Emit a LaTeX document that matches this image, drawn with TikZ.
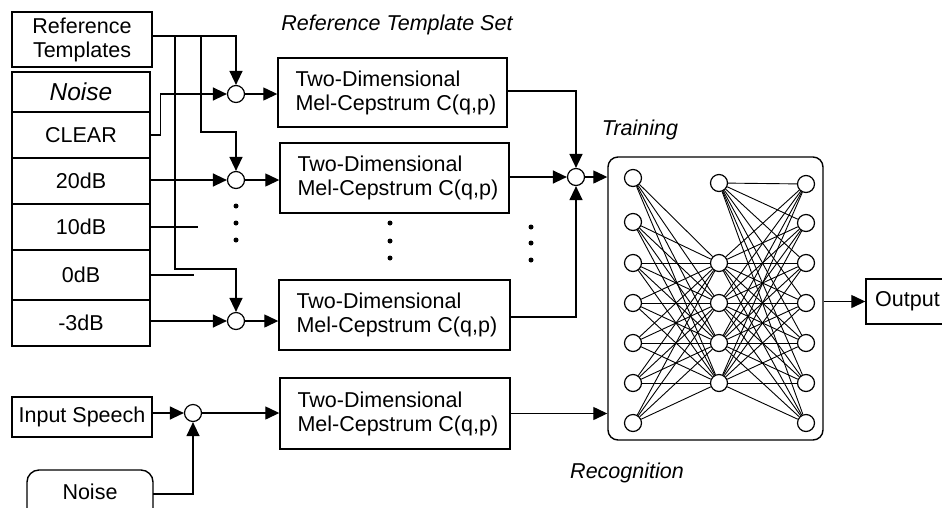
\documentclass[tikz,border=0pt]{standalone}
\usepackage{fontspec}
\setmainfont{Liberation Sans}
\usetikzlibrary{arrows.meta,calc}
\begin{document}
\begin{tikzpicture}[x=1pt,y=-1pt,
  every node/.style={font=\fontsize{21.5}{24}\selectfont},
  box/.style={draw, line width=1.4pt, inner sep=0pt},
  sum/.style={draw, circle, line width=1.2pt, minimum size=17pt, inner sep=0pt},
  neuron/.style={draw, circle, line width=1.2pt, minimum size=17pt, inner sep=0pt},
  wire/.style={line width=1.3pt},
  arr/.style={wire, -{Triangle[length=14pt,width=13pt]}},
  lab/.style={font=\fontsize{21.5}{24}\selectfont\itshape},
  dot/.style={circle, fill, inner sep=0pt, minimum size=5pt},
  syn/.style={line width=0.9pt},
  txt/.style={anchor=west, align=left, inner sep=0pt}
]
\path[use as bounding box] (0,0) rectangle (942,507);
\clip (0,0) rectangle (942,507);

% left column
\node[box, minimum width=140pt, minimum height=55pt, align=center] (ref) at (82,39.5) {Reference\\Templates};
\node[box, minimum width=138pt, minimum height=40pt, font=\fontsize{24.5}{26}\selectfont\itshape] (noise) at (81,92) {Noise};
\node[box, minimum width=138pt, minimum height=46pt] (clear) at (81,135) {CLEAR};
\node[box, minimum width=138pt, minimum height=46pt] (d20) at (81,181) {20dB};
\node[box, minimum width=138pt, minimum height=46pt] (d10) at (81,227) {10dB};
\node[box, minimum width=138pt, minimum height=50pt] (d0) at (81,275) {0dB};
\node[box, minimum width=138pt, minimum height=46pt] (dm3) at (81,323) {-3dB};

% summing points
\node[sum] (s1) at (236,94) {};
\node[sum] (s2) at (236,180) {};
\node[sum] (s3) at (236,321) {};

% mel-cepstrum boxes
\node[box, minimum width=229pt, minimum height=69pt] (m1) at (392.5,92.5) {};
\node[box, minimum width=229pt, minimum height=70pt] (m2) at (394.5,178) {};
\node[box, minimum width=231pt, minimum height=70pt] (m3) at (394.5,315) {};
\node[box, minimum width=230pt, minimum height=71pt] (m4) at (395,413.5) {};
\foreach \m in {m1,m2,m3,m4}{
  \node[txt] at ([xshift=18pt]\m.west) {Two-Dimensional\\Mel-Cepstrum C(q,p)};
}

% reference template lines
\coordinate (r0) at (152,36);
\coordinate (b1) at (201,36);
\coordinate (b2) at (175,36);
\coordinate (k2) at (236,132);
\coordinate (k3) at (236,269);
\draw[arr] (r0) -| (s1.north);
\draw[arr] (b1) |- (k2) -- (s2.north);
\draw[arr] (b2) |- (k3) -- (s3.north);

% noise lines
\draw[arr] (clear.east) -- ++(10,0) |- (s1.west);
\draw[arr] (d20.east |- s2) -- (s2.west);
\draw[wire] (d10.east) -- ++(47,0);
\draw[wire] (d0.east) -- ++(43,0);
\draw[arr] (dm3.east |- s3) -- (s3.west);

% to boxes
\draw[arr] (s1.east) -- (s1.east -| m1.west);
\draw[arr] (s2.east) -- (s2.east -| m2.west);
\draw[arr] (s3.east) -- (s3.east -| m3.west);

% dots
\foreach \y in {206,223,240}{\node[dot] at (236,\y) {};}
\foreach \y in {223,241,258}{\node[dot] at (390,\y) {};}
\foreach \y in {227,243,260}{\node[dot] at (531,\y) {};}

% training sum
\node[sum] (t) at (576,177) {};
\coordinate (u1) at (576,91);
\coordinate (u3) at (576,317);
\draw[arr] (m1.east |- u1) -- (u1) -- (t.north);
\draw[arr] (m2.east |- t) -- (t.west);
\draw[arr] (m3.east |- u3) -- (u3) -- (t.south);

% neural network
\node[draw, rounded corners=10pt, line width=1.4pt, minimum width=215pt, minimum height=283pt] (nn) at (715.5,298.5) {};
\draw[arr] (t.east) -- (t.east -| nn.west);

\foreach \i/\y in {1/178,2/222,3/263,4/303,5/343,6/383,7/423}{
  \node[neuron] (L\i) at (633,\y) {};
}
\node[neuron] (H0) at (719,183) {};
\foreach \j/\y in {1/263,2/303,3/343,4/383}{
  \node[neuron] (H\j) at (719,\y) {};
}
\foreach \k/\y in {1/184,2/223,3/263,4/303,5/343,6/383,7/423}{
  \node[neuron] (R\k) at (806,\y) {};
}
\foreach \i in {1,...,7}{
  \foreach \j in {1,...,4}{
    \draw[syn] (L\i) -- (H\j);
  }
}
\foreach \j in {0,...,4}{
  \foreach \k in {1,...,7}{
    \draw[syn] (H\j) -- (R\k);
  }
}

% output
\node[box, minimum width=84pt, minimum height=45pt] (out) at (908,301.5) {};
\node[txt] at (875,301.5) {Output};
\draw[arr] (nn.east |- out) -- (out.west);

% recognition path
\node[box, minimum width=140pt, minimum height=40pt] (in) at (82,417) {Input Speech};
\node[sum] (r) at (193,413) {};
\node[draw, rounded corners=12pt, line width=1.4pt, minimum width=126pt, minimum height=50pt] (noise2) at (90,495) {};
\node at (90,492) {Noise};
\coordinate (nz) at (153,494);
\draw[arr] (in.east |- r) -- (r.west);
\draw[arr] (nz) -| (r.south);
\draw[arr] (r.east) -- (r.east -| m4.west);
\draw[arr] (m4.east) -- (m4.east -| nn.west);

% labels
\node[lab] at (397,25) {Reference Template Set};
\node[lab] at (640,130) {Training};
\node[lab] at (627,473) {Recognition};
\end{tikzpicture}
\end{document}
